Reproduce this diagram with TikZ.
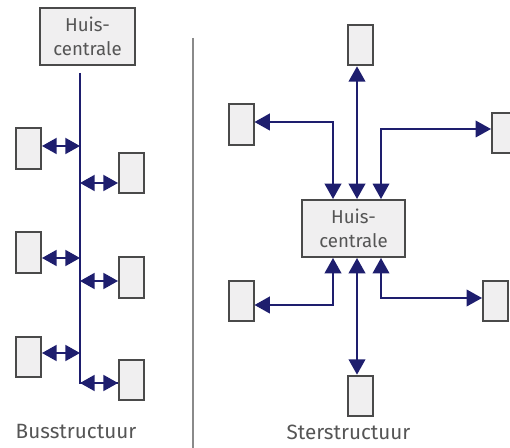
\documentclass[tikz,border=0pt]{standalone}
\usepackage{fontspec}
\setmainfont{Fira Sans}
\usetikzlibrary{arrows.meta}
\definecolor{navy}{HTML}{1E1E6E}
\definecolor{boxfill}{HTML}{F0EFF0}
\definecolor{boxline}{HTML}{4A4A4A}
\definecolor{txt}{HTML}{555555}
\definecolor{divider}{HTML}{8A8A8A}
\tikzset{
  box/.style={draw=boxline, line width=1.5pt, fill=boxfill, inner sep=0pt},
  dev/.style={box, minimum width=18.75pt, minimum height=30.5pt},
  hubbox/.style={box, text=txt, align=center, font=\fontsize{14}{17.5}\selectfont},
  conn/.style={draw=navy, line width=1.4pt},
  dbl/.style={conn, {Triangle[width=12pt,length=11pt]}-{Triangle[width=12pt,length=11pt]}},
  both/.style={conn, {Triangle[width=12.5pt,length=11.5pt]}-{Triangle[width=12.5pt,length=11.5pt]}},
  lbl/.style={text=txt, font=\fontsize{15.5}{18}\selectfont, inner sep=0pt},
}
\begin{document}
\begin{tikzpicture}[x=0.75pt,y=-0.75pt]
\useasboundingbox (0,0) rectangle (510,448);
\clip (0,0) rectangle (510,448);
% ---------- bus structure ----------
\node[hubbox, minimum width=71.25pt, minimum height=42.75pt] (hubL) at (87.5,36.5) {Huis-\\centrale};
\node[dev] (bl1) at (28.5,148.5) {};
\node[dev] (bl2) at (28.5,252.5) {};
\node[dev] (bl3) at (28.5,357) {};
\node[dev] (br1) at (131.5,173) {};
\node[dev] (br2) at (131.5,277.5) {};
\node[dev] (br3) at (131.5,380) {};
\coordinate (bustop) at (80,73);
\coordinate (a1) at (80,146);
\coordinate (a2) at (80,183);
\coordinate (a3) at (80,258);
\coordinate (a4) at (80,281);
\coordinate (a5) at (80,353);
\coordinate (a6) at (80,383);
\draw[conn] (bustop) -- (a6) -- (a6 -| br3.west);
\draw[dbl] (a1) -- (a1 -| bl1.east);
\draw[dbl] (a2) -- (a2 -| br1.west);
\draw[dbl] (a3) -- (a3 -| bl2.east);
\draw[dbl] (a4) -- (a4 -| br2.west);
\draw[dbl] (a5) -- (a5 -| bl3.east);
\draw[dbl] (a6) -- (a6 -| br3.west);
\node[lbl] (busl) at (76,432) {Busstructuur};
% ---------- divider ----------
\coordinate (dtop) at (193,38);
\coordinate (dbot) at (193,448);
\draw[divider, line width=1.2pt] (dtop) -- (dbot);
% ---------- star structure ----------
\node[hubbox, minimum width=77.25pt, minimum height=42.75pt] (hubR) at (353.5,228.5) {Huis-\\centrale};
\node[dev] (top) at (360.5,45) {};
\node[dev] (ul) at (241,124.5) {};
\node[dev] (ur) at (504.5,133) {};
\node[dev] (ll) at (241,301) {};
\node[dev] (lr) at (495.5,301) {};
\node[dev] (bot) at (360.5,396) {};
\coordinate (c1) at (333,122);
\coordinate (c2) at (357,0);
\coordinate (c3) at (381,129);
\coordinate (d1) at (333,305);
\coordinate (d3) at (381,298);
\draw[both] (c2 |- hubR.north) -- (c2 |- top.south);
\draw[both] (c1 |- hubR.north) -- (c1) -- (c1 -| ul.east);
\draw[both, line width=1pt] (c3 |- hubR.north) -- (c3) -- (c3 -| ur.west);
\draw[both] (d1 |- hubR.south) -- (d1) -- (d1 -| ll.east);
\draw[both, line width=1.1pt] (d3 |- hubR.south) -- (d3) -- (d3 -| lr.west);
\draw[both] (c2 |- hubR.south) -- (c2 |- bot.north);
\node[lbl] (sterl) at (348.5,432) {Sterstructuur};
\end{tikzpicture}
\end{document}
